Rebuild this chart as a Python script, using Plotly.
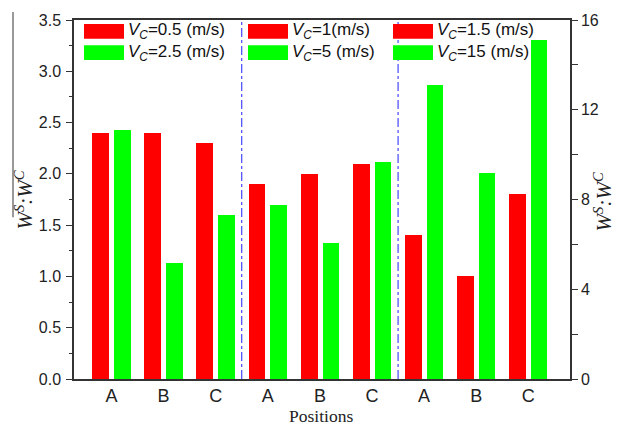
import plotly.graph_objects as go

# ---- data ----
positions = ["A", "B", "C", "A", "B", "C", "A", "B", "C"]
red_values = [2.40, 2.40, 2.30, 1.90, 2.00, 2.10, 1.40, 1.00, 1.80]      # left axis
green_values_left = [2.43, 1.13, 1.60, 1.70, 1.33, 2.12]                 # groups 1-2, left axis
green_values_right = [13.1, 9.2, 15.1]                                    # group 3, right axis
legend_red = ["0.5 (m/s)", "1(m/s)", "1.5 (m/s)"]
legend_green = ["2.5 (m/s)", "5 (m/s)", "15 (m/s)"]
left_ticks = [0.0, 0.5, 1.0, 1.5, 2.0, 2.5, 3.0, 3.5]
right_ticks = [0, 4, 8, 12, 16]

W, H = 621, 428
L, R, T, B = 74, 570, 15, 379   # plot area in pixels

def px(x):
    return (x - L) / (R - L)

def py(y):
    return (B - y) / (B - T)

xi = list(range(len(positions)))
RED = "#ff0000"
GREEN = "#00ff00"

fig = go.Figure()
fig.add_trace(go.Bar(x=xi, y=red_values, width=0.325, offset=-0.37,
                     marker=dict(color=RED, line=dict(width=0)), showlegend=False))
fig.add_trace(go.Bar(x=xi[:6], y=green_values_left, width=0.315, offset=0.05,
                     marker=dict(color=GREEN, line=dict(width=0)), showlegend=False))
fig.add_trace(go.Bar(x=xi[6:], y=green_values_right, width=0.315, offset=0.05, yaxis="y2",
                     marker=dict(color=GREEN, line=dict(width=0)), showlegend=False))

shapes = []
# group separators
for xs in [2.5, 5.5]:
    shapes.append(dict(type="line", xref="x", yref="paper", x0=xs, x1=xs, y0=0, y1=1,
                       line=dict(color="#2020ff", width=1, dash="dashdot")))

annotations = []
# manual legend blocks
legend_x = [84, 248, 393]
for i in range(3):
    x0 = legend_x[i]
    for (lab, col, yc) in [(legend_red[i], RED, 26.5), (legend_green[i], GREEN, 48)]:
        shapes.append(dict(type="rect", xref="paper", yref="paper",
                           x0=px(x0), x1=px(x0 + 40), y0=py(yc + 7.5), y1=py(yc - 7.5),
                           fillcolor=col, line=dict(width=0)))
        annotations.append(dict(xref="paper", yref="paper", x=px(x0 + 42), y=py(yc),
                                xanchor="left", yanchor="middle", showarrow=False,
                                text="<i>V<sub>C</sub></i>=" + lab,
                                font=dict(family="Liberation Sans, Arial", size=17, color="#111")))

# odd vertical line next to left title
shapes.append(dict(type="line", xref="paper", yref="paper", x0=px(13), x1=px(13),
                   y0=py(215), y1=py(7), line=dict(color="#777", width=1.5)))

title_text = "<i>W<sup>S</sup>:W<sup>C</sup></i>"
title_font = dict(family="Liberation Serif, Times New Roman", size=21, color="#222")
annotations.append(dict(xref="paper", yref="paper", x=px(24), y=py(198), textangle=-90,
                        xanchor="center", yanchor="middle", showarrow=False, text=title_text,
                        font=title_font))
annotations.append(dict(xref="paper", yref="paper", x=px(603), y=py(200), textangle=-90,
                        xanchor="center", yanchor="middle", showarrow=False, text=title_text,
                        font=title_font))
annotations.append(dict(xref="paper", yref="paper", x=px(321), y=py(417),
                        xanchor="center", yanchor="middle", showarrow=False, text="Positions",
                        font=dict(family="Liberation Serif, Times New Roman", size=17.5, color="#222")))

tickfont = dict(family="Liberation Sans, Arial", size=16, color="#222")

fig.update_layout(
    width=W, height=H,
    margin=dict(l=L, r=W - R, t=T, b=H - B, pad=0),
    paper_bgcolor="white", plot_bgcolor="white",
    showlegend=False,
    bargap=0,
    shapes=shapes,
    annotations=annotations,
    xaxis=dict(range=[-0.72, 8.8], tickmode="array", tickvals=xi, ticktext=positions,
               ticks="", showgrid=False, zeroline=False, showline=True, linecolor="#333",
               linewidth=1.5, mirror=True,
               tickfont=dict(family="Liberation Sans, Arial", size=18, color="#222")),
    yaxis=dict(range=[0, 3.5], tickmode="array", tickvals=left_ticks,
               ticktext=[f"{v:.1f}" for v in left_ticks],
               ticks="outside", ticklen=6, tickwidth=1.2, tickcolor="#333",
               minor=dict(ticks="outside", ticklen=3, tickcolor="#333", dtick=0.25, showgrid=False),
               showgrid=False, zeroline=False, showline=True, linecolor="#333", linewidth=1.5,
               tickfont=tickfont, ticklabelstandoff=2),
    yaxis2=dict(range=[0, 16], overlaying="y", side="right", tickmode="array",
                tickvals=right_ticks, ticktext=[str(v) for v in right_ticks],
                ticks="outside", ticklen=6, tickwidth=1.2, tickcolor="#333",
                minor=dict(ticks="outside", ticklen=6, tickcolor="#333", dtick=2, showgrid=False),
                showgrid=False, zeroline=False, showline=True, linecolor="#333", linewidth=1.5,
                tickfont=tickfont),
)

fig.write_html("out.html")
